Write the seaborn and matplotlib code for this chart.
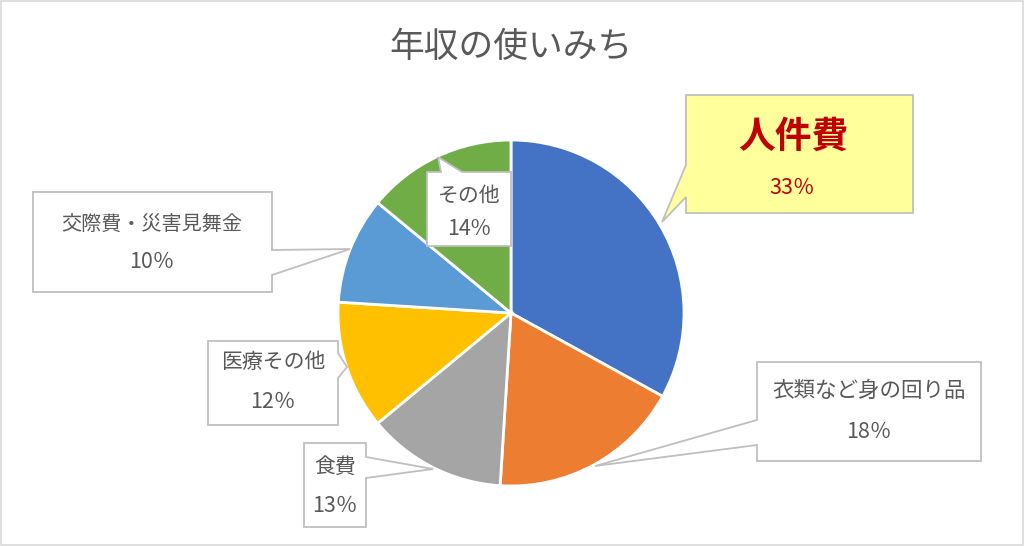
import matplotlib
matplotlib.use("Agg")
import matplotlib.pyplot as plt
from matplotlib.patches import Polygon, Rectangle
import seaborn as sns

# data
categories = ["人件費", "衣類など身の回り品", "食費", "医療その他", "交際費・災害見舞金", "その他"]
shares = [33, 18, 13, 12, 10, 14]
pct_labels = ["33％", "18％", "13％", "12％", "10％", "14%"]
colors = ["#4472C4", "#ED7D31", "#A5A5A5", "#FFC000", "#5B9BD5", "#70AD47"]

sns.set_theme(style="white")
plt.rcParams["font.family"] = ["Noto Sans CJK JP", "DejaVu Sans"]

W, H = 1024, 546
fig = plt.figure(figsize=(W / 100, H / 100), dpi=100)
ax = fig.add_axes([0, 0, 1, 1])
ax.axis("off")


def py(y):
    # pixel y (top down) -> data y
    return H - y


ax.pie(shares, colors=colors, startangle=90, counterclock=False,
       center=(511, py(313)), radius=173,
       wedgeprops=dict(edgecolor="white", linewidth=2))
ax.set_xlim(0, W)
ax.set_ylim(0, H)
ax.set_aspect("equal")

# outer frame
ax.add_patch(Rectangle((1, 1), W - 2, H - 2, fill=False,
                       edgecolor="#D9D9D9", linewidth=1.2))

ax.text(511, py(48), "年収の使いみち", ha="center", va="center",
        fontsize=25, color="#595959")

TXT = "#595959"
LBL_FS = 15
PCT_FS = 15.5


def callout(x0, y0, x1, y1, side, b1, b2, tip, face="white"):
    if side == "top":
        pts = [(x0, y0), (b1, y0), tip, (b2, y0), (x1, y0), (x1, y1), (x0, y1)]
    elif side == "right":
        pts = [(x0, y0), (x1, y0), (x1, b1), tip, (x1, b2), (x1, y1), (x0, y1)]
    elif side == "bottom":
        pts = [(x0, y0), (x1, y0), (x1, y1), (b2, y1), tip, (b1, y1), (x0, y1)]
    else:
        pts = [(x0, y0), (x1, y0), (x1, y1), (x0, y1), (x0, b2), tip, (x0, b1)]
    pts = [(x, py(y)) for x, y in pts]
    ax.add_patch(Polygon(pts, closed=True, facecolor=face,
                         edgecolor="#BFBFBF", linewidth=1.3, zorder=3))


def labels(i, x, y_lbl, y_pct, lbl_fs=LBL_FS):
    ax.text(x, py(y_lbl), categories[i], ha="center", va="center",
            fontsize=lbl_fs, color=TXT, zorder=4)
    ax.text(x, py(y_pct), pct_labels[i], ha="center", va="center",
            fontsize=PCT_FS, color=TXT, zorder=4)


# 人件費
callout(686, 95, 913, 213, "left", 165, 197, (662, 222), face="#FFFF9B")
ax.text(793, py(137), categories[0], ha="center", va="center",
        fontsize=26.5, fontweight="bold", color="#C00000", zorder=4)
ax.text(792, py(188), pct_labels[0], ha="center", va="center",
        fontsize=PCT_FS, color="#C00000", zorder=4)

# 衣類など身の回り品
callout(757, 362, 981, 461, "left", 420, 445, (595, 466))
labels(1, 869, 391, 432, lbl_fs=15.5)

# 食費
callout(304, 443, 366, 527, "right", 457, 478, (433, 469))
labels(2, 335, 467, 506)

# 医療その他
callout(208, 341, 338, 425, "right", 353, 378, (347, 367))
labels(3, 273, 362, 402)

# 交際費・災害見舞金
callout(33, 192, 272, 292, "right", 250, 275, (350, 249))
labels(4, 152, 224, 262, lbl_fs=14.5)

# その他
callout(427, 172, 511, 246, "top", 441, 462, (438, 157))
labels(5, 469, 196, 229)

fig.savefig("out.png", dpi=100)
